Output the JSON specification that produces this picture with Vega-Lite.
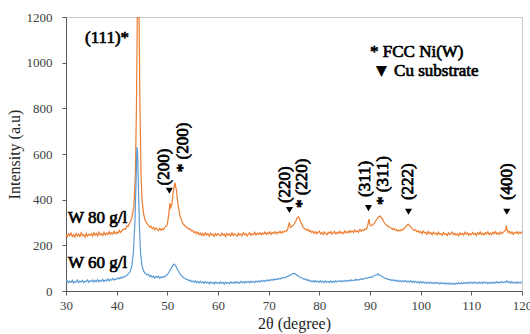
{
 "$schema": "https://vega.github.io/schema/vega-lite/v6.json",
 "width": 456, "height": 274,
 "autosize": {"type": "none"},
 "padding": {"left": 66, "top": 17, "right": 8, "bottom": 43},
 "background": "white",
 "config": {"view": {"stroke": "#c8c8c8", "strokeWidth": 1}, "font": "Liberation Serif"},
 "datasets": {
  "o": [
{"x":30,"y":248},{"x":30.25,"y":237},{"x":30.5,"y":251},{"x":30.75,"y":243},{"x":31,"y":254},{"x":31.25,"y":239},{"x":31.5,"y":246},{"x":31.75,"y":236},{"x":32,"y":252},{"x":32.25,"y":241},{"x":32.5,"y":250},{"x":32.75,"y":238},{"x":33,"y":255},{"x":33.25,"y":242},{"x":33.5,"y":247},{"x":33.75,"y":236},{"x":34,"y":253},{"x":34.25,"y":240},{"x":34.5,"y":249},{"x":34.75,"y":244},{"x":35,"y":251},{"x":35.25,"y":240},{"x":35.5,"y":256},{"x":35.75,"y":244},{"x":36,"y":252},{"x":36.25,"y":241},{"x":36.5,"y":258},{"x":36.75,"y":246},{"x":37,"y":250},{"x":37.25,"y":243},{"x":37.5,"y":257},{"x":37.75,"y":245},{"x":38,"y":254},{"x":38.25,"y":247},{"x":38.5,"y":260},{"x":38.75,"y":248},{"x":39,"y":256},{"x":39.25,"y":249},{"x":39.5,"y":262},{"x":39.75,"y":251},{"x":40,"y":258},{"x":40.25,"y":252},{"x":40.5,"y":265},{"x":40.75,"y":256},{"x":41,"y":263},{"x":41.25,"y":268},{"x":41.5,"y":272},{"x":41.75,"y":270},{"x":42,"y":285},{"x":42.25,"y":283},{"x":42.5,"y":296},{"x":42.75,"y":305},{"x":43,"y":322},{"x":43.4,"y":370},{"x":43.7,"y":520},{"x":43.9,"y":800},{"x":44.1,"y":1250},{"x":44.25,"y":1400},{"x":44.4,"y":1250},{"x":44.6,"y":800},{"x":44.8,"y":520},{"x":45,"y":400},{"x":45.3,"y":340},{"x":45.6,"y":310},{"x":46,"y":295},{"x":46.25,"y":288},{"x":46.5,"y":280},{"x":46.75,"y":284},{"x":47,"y":274},{"x":47.25,"y":279},{"x":47.5,"y":268},{"x":47.75,"y":276},{"x":48,"y":270},{"x":48.25,"y":264},{"x":48.5,"y":275},{"x":48.75,"y":266},{"x":49,"y":273},{"x":49.25,"y":268},{"x":49.5,"y":280},{"x":49.75,"y":283},{"x":50,"y":292},{"x":50.3,"y":340},{"x":50.5,"y":385},{"x":50.7,"y":365},{"x":50.9,"y":380},{"x":51.2,"y":440},{"x":51.5,"y":475},{"x":51.8,"y":440},{"x":52.1,"y":380},{"x":52.5,"y":330},{"x":53,"y":298},{"x":53.25,"y":290},{"x":53.5,"y":286},{"x":53.75,"y":279},{"x":54,"y":276},{"x":54.25,"y":270},{"x":54.5,"y":272},{"x":54.75,"y":263},{"x":55,"y":265},{"x":55.25,"y":256},{"x":55.5,"y":260},{"x":55.75,"y":251},{"x":56,"y":258},{"x":56.25,"y":247},{"x":56.5,"y":254},{"x":56.75,"y":244},{"x":57,"y":252},{"x":57.25,"y":242},{"x":57.5,"y":255},{"x":57.75,"y":246},{"x":58,"y":250},{"x":58.25,"y":240},{"x":58.5,"y":253},{"x":58.75,"y":245},{"x":59,"y":249},{"x":59.25,"y":239},{"x":59.5,"y":252},{"x":59.75,"y":243},{"x":60,"y":251},{"x":60.25,"y":246},{"x":60.5,"y":241},{"x":60.75,"y":254},{"x":61,"y":244},{"x":61.25,"y":250},{"x":61.5,"y":238},{"x":61.75,"y":252},{"x":62,"y":245},{"x":62.25,"y":249},{"x":62.5,"y":241},{"x":62.75,"y":255},{"x":63,"y":243},{"x":63.25,"y":251},{"x":63.5,"y":246},{"x":63.75,"y":240},{"x":64,"y":253},{"x":64.25,"y":245},{"x":64.5,"y":250},{"x":64.75,"y":242},{"x":65,"y":256},{"x":65.25,"y":246},{"x":65.5,"y":252},{"x":65.75,"y":241},{"x":66,"y":249},{"x":66.25,"y":255},{"x":66.5,"y":244},{"x":66.75,"y":251},{"x":67,"y":247},{"x":67.25,"y":257},{"x":67.5,"y":245},{"x":67.75,"y":253},{"x":68,"y":248},{"x":68.25,"y":256},{"x":68.5,"y":246},{"x":68.75,"y":254},{"x":69,"y":249},{"x":69.25,"y":258},{"x":69.5,"y":247},{"x":69.75,"y":255},{"x":70,"y":250},{"x":70.25,"y":259},{"x":70.5,"y":248},{"x":70.75,"y":256},{"x":71,"y":252},{"x":71.25,"y":260},{"x":71.5,"y":250},{"x":71.75,"y":258},{"x":72,"y":254},{"x":72.25,"y":262},{"x":72.5,"y":252},{"x":72.75,"y":260},{"x":73,"y":257},{"x":73.25,"y":264},{"x":73.5,"y":262},{"x":73.75,"y":270},{"x":73.9,"y":285},{"x":74.1,"y":300},{"x":74.3,"y":278},{"x":74.5,"y":282},{"x":74.7,"y":285},{"x":75,"y":292},{"x":75.2,"y":300},{"x":75.4,"y":308},{"x":75.6,"y":318},{"x":75.9,"y":325},{"x":76.2,"y":310},{"x":76.4,"y":298},{"x":76.6,"y":290},{"x":76.8,"y":280},{"x":77,"y":275},{"x":77.25,"y":270},{"x":77.5,"y":266},{"x":77.75,"y":271},{"x":78,"y":260},{"x":78.25,"y":265},{"x":78.5,"y":256},{"x":78.75,"y":262},{"x":79,"y":252},{"x":79.25,"y":260},{"x":79.5,"y":251},{"x":79.75,"y":257},{"x":80,"y":262},{"x":80.25,"y":250},{"x":80.5,"y":256},{"x":80.75,"y":247},{"x":81,"y":259},{"x":81.25,"y":251},{"x":81.5,"y":246},{"x":81.75,"y":257},{"x":82,"y":252},{"x":82.25,"y":260},{"x":82.5,"y":249},{"x":82.75,"y":255},{"x":83,"y":261},{"x":83.25,"y":250},{"x":83.5,"y":257},{"x":83.75,"y":252},{"x":84,"y":262},{"x":84.25,"y":253},{"x":84.5,"y":258},{"x":84.75,"y":251},{"x":85,"y":263},{"x":85.25,"y":255},{"x":85.5,"y":260},{"x":85.75,"y":254},{"x":86,"y":265},{"x":86.25,"y":257},{"x":86.5,"y":262},{"x":86.75,"y":256},{"x":87,"y":267},{"x":87.25,"y":259},{"x":87.5,"y":264},{"x":87.75,"y":258},{"x":88,"y":270},{"x":88.25,"y":262},{"x":88.5,"y":268},{"x":88.75,"y":264},{"x":89,"y":272},{"x":89.25,"y":270},{"x":89.5,"y":282},{"x":89.8,"y":315},{"x":90,"y":290},{"x":90.2,"y":286},{"x":90.4,"y":288},{"x":90.6,"y":292},{"x":90.8,"y":295},{"x":91,"y":302},{"x":91.2,"y":310},{"x":91.4,"y":316},{"x":91.6,"y":322},{"x":91.8,"y":326},{"x":92,"y":328},{"x":92.2,"y":322},{"x":92.4,"y":318},{"x":92.6,"y":308},{"x":92.8,"y":300},{"x":93,"y":294},{"x":93.2,"y":290},{"x":93.45,"y":284},{"x":93.7,"y":282},{"x":93.95,"y":278},{"x":94.2,"y":276},{"x":94.45,"y":270},{"x":94.7,"y":274},{"x":94.95,"y":266},{"x":95.2,"y":270},{"x":95.45,"y":262},{"x":95.7,"y":267},{"x":95.95,"y":263},{"x":96.2,"y":270},{"x":96.45,"y":266},{"x":96.7,"y":274},{"x":96.95,"y":278},{"x":97.2,"y":285},{"x":97.4,"y":290},{"x":97.6,"y":292},{"x":97.8,"y":286},{"x":98,"y":282},{"x":98.25,"y":274},{"x":98.5,"y":270},{"x":98.75,"y":265},{"x":99,"y":268},{"x":99.25,"y":259},{"x":99.5,"y":264},{"x":99.75,"y":256},{"x":100,"y":261},{"x":100.25,"y":251},{"x":100.5,"y":263},{"x":100.75,"y":254},{"x":101,"y":258},{"x":101.25,"y":248},{"x":101.5,"y":260},{"x":101.75,"y":251},{"x":102,"y":256},{"x":102.25,"y":246},{"x":102.5,"y":258},{"x":102.75,"y":250},{"x":103,"y":254},{"x":103.25,"y":245},{"x":103.5,"y":257},{"x":103.75,"y":249},{"x":104,"y":252},{"x":104.25,"y":244},{"x":104.5,"y":256},{"x":104.75,"y":248},{"x":105,"y":251},{"x":105.25,"y":243},{"x":105.5,"y":255},{"x":105.75,"y":247},{"x":106,"y":252},{"x":106.25,"y":258},{"x":106.5,"y":246},{"x":106.75,"y":253},{"x":107,"y":244},{"x":107.25,"y":251},{"x":107.5,"y":242},{"x":107.75,"y":254},{"x":108,"y":247},{"x":108.25,"y":252},{"x":108.5,"y":245},{"x":108.75,"y":257},{"x":109,"y":249},{"x":109.25,"y":254},{"x":109.5,"y":244},{"x":109.75,"y":252},{"x":110,"y":246},{"x":110.25,"y":256},{"x":110.5,"y":248},{"x":110.75,"y":253},{"x":111,"y":243},{"x":111.25,"y":255},{"x":111.5,"y":249},{"x":111.75,"y":258},{"x":112,"y":247},{"x":112.25,"y":253},{"x":112.5,"y":245},{"x":112.75,"y":256},{"x":113,"y":250},{"x":113.25,"y":259},{"x":113.5,"y":248},{"x":113.75,"y":254},{"x":114,"y":246},{"x":114.25,"y":257},{"x":114.5,"y":251},{"x":114.75,"y":260},{"x":115,"y":249},{"x":115.25,"y":255},{"x":115.5,"y":247},{"x":115.75,"y":258},{"x":116,"y":251},{"x":116.25,"y":256},{"x":116.5,"y":262},{"x":116.75,"y":266},{"x":116.9,"y":287},{"x":117.05,"y":268},{"x":117.25,"y":256},{"x":117.5,"y":262},{"x":117.75,"y":251},{"x":118,"y":259},{"x":118.25,"y":248},{"x":118.5,"y":257},{"x":118.75,"y":252},{"x":119,"y":260},{"x":119.25,"y":250},{"x":119.5,"y":258},{"x":119.75,"y":253},{"x":120,"y":261}
  ],
  "b": [
{"x":30,"y":40},{"x":30.25,"y":46},{"x":30.5,"y":36},{"x":30.75,"y":43},{"x":31,"y":38},{"x":31.25,"y":47},{"x":31.5,"y":35},{"x":31.75,"y":42},{"x":32,"y":39},{"x":32.25,"y":48},{"x":32.5,"y":37},{"x":32.75,"y":44},{"x":33,"y":40},{"x":33.25,"y":46},{"x":33.5,"y":36},{"x":33.75,"y":43},{"x":34,"y":41},{"x":34.25,"y":49},{"x":34.5,"y":38},{"x":34.75,"y":45},{"x":35,"y":42},{"x":35.25,"y":48},{"x":35.5,"y":39},{"x":35.75,"y":46},{"x":36,"y":41},{"x":36.25,"y":50},{"x":36.5,"y":40},{"x":36.75,"y":47},{"x":37,"y":43},{"x":37.25,"y":51},{"x":37.5,"y":42},{"x":37.75,"y":48},{"x":38,"y":45},{"x":38.25,"y":53},{"x":38.5,"y":44},{"x":38.75,"y":51},{"x":39,"y":47},{"x":39.25,"y":55},{"x":39.5,"y":48},{"x":39.75,"y":53},{"x":40,"y":51},{"x":40.25,"y":58},{"x":40.5,"y":53},{"x":40.75,"y":60},{"x":41,"y":56},{"x":41.25,"y":63},{"x":41.5,"y":61},{"x":41.75,"y":66},{"x":42,"y":68},{"x":42.25,"y":74},{"x":42.5,"y":80},{"x":42.75,"y":92},{"x":43,"y":110},{"x":43.3,"y":170},{"x":43.6,"y":300},{"x":43.85,"y":500},{"x":44,"y":630},{"x":44.15,"y":600},{"x":44.3,"y":450},{"x":44.5,"y":280},{"x":44.7,"y":170},{"x":45,"y":110},{"x":45.25,"y":92},{"x":45.5,"y":80},{"x":45.75,"y":76},{"x":46,"y":70},{"x":46.25,"y":74},{"x":46.5,"y":63},{"x":46.75,"y":68},{"x":47,"y":60},{"x":47.25,"y":66},{"x":47.5,"y":57},{"x":47.75,"y":63},{"x":48,"y":59},{"x":48.25,"y":65},{"x":48.5,"y":56},{"x":48.75,"y":62},{"x":49,"y":58},{"x":49.25,"y":64},{"x":49.5,"y":62},{"x":49.75,"y":68},{"x":50,"y":72},{"x":50.25,"y":80},{"x":50.5,"y":90},{"x":50.75,"y":100},{"x":51,"y":110},{"x":51.3,"y":118},{"x":51.6,"y":112},{"x":51.8,"y":104},{"x":52,"y":95},{"x":52.25,"y":84},{"x":52.5,"y":75},{"x":52.75,"y":68},{"x":53,"y":62},{"x":53.25,"y":58},{"x":53.5,"y":55},{"x":53.75,"y":51},{"x":54,"y":50},{"x":54.25,"y":45},{"x":54.5,"y":48},{"x":54.75,"y":41},{"x":55,"y":44},{"x":55.25,"y":38},{"x":55.5,"y":45},{"x":55.75,"y":37},{"x":56,"y":42},{"x":56.25,"y":35},{"x":56.5,"y":43},{"x":56.75,"y":36},{"x":57,"y":40},{"x":57.25,"y":33},{"x":57.5,"y":41},{"x":57.75,"y":35},{"x":58,"y":39},{"x":58.25,"y":32},{"x":58.5,"y":40},{"x":58.75,"y":34},{"x":59,"y":38},{"x":59.25,"y":31},{"x":59.5,"y":39},{"x":59.75,"y":34},{"x":60,"y":37},{"x":60.25,"y":32},{"x":60.5,"y":40},{"x":60.75,"y":33},{"x":61,"y":38},{"x":61.25,"y":31},{"x":61.5,"y":39},{"x":61.75,"y":34},{"x":62,"y":37},{"x":62.25,"y":32},{"x":62.5,"y":40},{"x":62.75,"y":35},{"x":63,"y":38},{"x":63.25,"y":33},{"x":63.5,"y":41},{"x":63.75,"y":35},{"x":64,"y":39},{"x":64.25,"y":34},{"x":64.5,"y":42},{"x":64.75,"y":36},{"x":65,"y":40},{"x":65.25,"y":35},{"x":65.5,"y":42},{"x":65.75,"y":37},{"x":66,"y":41},{"x":66.25,"y":36},{"x":66.5,"y":43},{"x":66.75,"y":38},{"x":67,"y":42},{"x":67.25,"y":37},{"x":67.5,"y":44},{"x":67.75,"y":40},{"x":68,"y":45},{"x":68.25,"y":39},{"x":68.5,"y":46},{"x":68.75,"y":42},{"x":69,"y":47},{"x":69.25,"y":42},{"x":69.5,"y":48},{"x":69.75,"y":44},{"x":70,"y":49},{"x":70.25,"y":45},{"x":70.5,"y":50},{"x":70.75,"y":47},{"x":71,"y":52},{"x":71.25,"y":48},{"x":71.5,"y":53},{"x":71.75,"y":51},{"x":72,"y":55},{"x":72.25,"y":52},{"x":72.5,"y":57},{"x":72.75,"y":56},{"x":73,"y":59},{"x":73.25,"y":58},{"x":73.5,"y":62},{"x":73.75,"y":64},{"x":74,"y":66},{"x":74.25,"y":70},{"x":74.5,"y":72},{"x":74.75,"y":76},{"x":75,"y":77},{"x":75.3,"y":75},{"x":75.5,"y":70},{"x":75.7,"y":68},{"x":76,"y":62},{"x":76.2,"y":60},{"x":76.45,"y":58},{"x":76.7,"y":56},{"x":76.95,"y":51},{"x":77.2,"y":53},{"x":77.45,"y":47},{"x":77.7,"y":50},{"x":77.95,"y":44},{"x":78.2,"y":47},{"x":78.45,"y":41},{"x":78.7,"y":45},{"x":78.95,"y":39},{"x":79.2,"y":46},{"x":79.45,"y":40},{"x":79.7,"y":44},{"x":79.95,"y":38},{"x":80.2,"y":45},{"x":80.45,"y":39},{"x":80.7,"y":43},{"x":80.95,"y":36},{"x":81.2,"y":44},{"x":81.45,"y":38},{"x":81.7,"y":42},{"x":81.95,"y":37},{"x":82.2,"y":44},{"x":82.45,"y":38},{"x":82.7,"y":43},{"x":82.95,"y":39},{"x":83.2,"y":45},{"x":83.45,"y":40},{"x":83.7,"y":44},{"x":83.95,"y":41},{"x":84.2,"y":46},{"x":84.45,"y":40},{"x":84.7,"y":45},{"x":84.95,"y":42},{"x":85.2,"y":47},{"x":85.45,"y":43},{"x":85.7,"y":46},{"x":85.95,"y":44},{"x":86.2,"y":49},{"x":86.45,"y":45},{"x":86.7,"y":48},{"x":86.95,"y":46},{"x":87.2,"y":51},{"x":87.45,"y":47},{"x":87.7,"y":50},{"x":87.95,"y":49},{"x":88.2,"y":54},{"x":88.45,"y":50},{"x":88.7,"y":53},{"x":88.95,"y":55},{"x":89.2,"y":57},{"x":89.45,"y":56},{"x":89.7,"y":60},{"x":89.95,"y":58},{"x":90.2,"y":62},{"x":90.45,"y":61},{"x":90.7,"y":66},{"x":90.95,"y":68},{"x":91.2,"y":71},{"x":91.4,"y":70},{"x":91.6,"y":75},{"x":91.8,"y":71},{"x":92,"y":68},{"x":92.25,"y":66},{"x":92.5,"y":62},{"x":92.75,"y":59},{"x":93,"y":56},{"x":93.25,"y":53},{"x":93.5,"y":54},{"x":93.75,"y":49},{"x":94,"y":51},{"x":94.25,"y":46},{"x":94.5,"y":49},{"x":94.75,"y":44},{"x":95,"y":48},{"x":95.25,"y":43},{"x":95.5,"y":47},{"x":95.75,"y":41},{"x":96,"y":46},{"x":96.25,"y":40},{"x":96.5,"y":45},{"x":96.75,"y":41},{"x":97,"y":46},{"x":97.25,"y":39},{"x":97.5,"y":44},{"x":97.75,"y":40},{"x":98,"y":45},{"x":98.25,"y":38},{"x":98.5,"y":43},{"x":98.75,"y":37},{"x":99,"y":42},{"x":99.25,"y":36},{"x":99.5,"y":41},{"x":99.75,"y":35},{"x":100,"y":41},{"x":100.25,"y":35},{"x":100.5,"y":40},{"x":100.75,"y":34},{"x":101,"y":39},{"x":101.25,"y":33},{"x":101.5,"y":38},{"x":101.75,"y":34},{"x":102,"y":39},{"x":102.25,"y":33},{"x":102.5,"y":37},{"x":102.75,"y":32},{"x":103,"y":38},{"x":103.25,"y":33},{"x":103.5,"y":36},{"x":103.75,"y":31},{"x":104,"y":37},{"x":104.25,"y":32},{"x":104.5,"y":36},{"x":104.75,"y":30},{"x":105,"y":36},{"x":105.25,"y":31},{"x":105.5,"y":35},{"x":105.75,"y":29},{"x":106,"y":35},{"x":106.25,"y":30},{"x":106.5,"y":34},{"x":106.75,"y":29},{"x":107,"y":35},{"x":107.25,"y":31},{"x":107.5,"y":37},{"x":107.75,"y":32},{"x":108,"y":36},{"x":108.25,"y":31},{"x":108.5,"y":38},{"x":108.75,"y":33},{"x":109,"y":37},{"x":109.25,"y":32},{"x":109.5,"y":39},{"x":109.75,"y":34},{"x":110,"y":38},{"x":110.25,"y":33},{"x":110.5,"y":40},{"x":110.75,"y":35},{"x":111,"y":37},{"x":111.25,"y":32},{"x":111.5,"y":39},{"x":111.75,"y":34},{"x":112,"y":38},{"x":112.25,"y":33},{"x":112.5,"y":40},{"x":112.75,"y":35},{"x":113,"y":38},{"x":113.25,"y":32},{"x":113.5,"y":37},{"x":113.75,"y":34},{"x":114,"y":39},{"x":114.25,"y":33},{"x":114.5,"y":38},{"x":114.75,"y":35},{"x":115,"y":41},{"x":115.25,"y":34},{"x":115.5,"y":39},{"x":115.75,"y":35},{"x":116,"y":42},{"x":116.25,"y":36},{"x":116.5,"y":40},{"x":116.75,"y":37},{"x":117,"y":45},{"x":117.25,"y":38},{"x":117.5,"y":41},{"x":117.75,"y":34},{"x":118,"y":42},{"x":118.25,"y":35},{"x":118.5,"y":38},{"x":118.75,"y":33},{"x":119,"y":40},{"x":119.25,"y":34},{"x":119.5,"y":38},{"x":119.75,"y":35},{"x":120,"y":41}
  ]
 },
 "encoding": {
  "x": {"field": "x", "type": "quantitative", "scale": {"domain": [30, 120], "nice": false, "zero": false},
   "axis": {"title": "2θ (degree)", "values": [30,40,50,60,70,80,90,100,110,120], "grid": false, "tickSize": 4, "labelPadding": 4, "titlePadding": 3,
    "labelFontSize": 13, "titleFontSize": 16, "titleFontWeight": "normal", "labelColor": "#404040", "titleColor": "#262626",
    "domainColor": "#595959", "tickColor": "#595959", "labelFont": "Liberation Serif", "titleFont": "Liberation Serif", "labelOverlap": false, "labelFlush": false}},
  "y": {"field": "y", "type": "quantitative", "scale": {"domain": [0, 1200], "nice": false},
   "axis": {"title": "Intensity (a.u)", "values": [0,200,400,600,800,1000,1200], "format": "d", "grid": false, "tickSize": 4, "labelPadding": 10, "titlePadding": 4,
    "labelFontSize": 13, "titleFontSize": 16, "titleFontWeight": "normal", "labelColor": "#404040", "titleColor": "#262626",
    "domainColor": "#595959", "tickColor": "#595959", "labelFont": "Liberation Serif", "titleFont": "Liberation Serif"}}
 },
 "layer": [
  {"data": {"name": "o"}, "mark": {"type": "line", "clip": true, "strokeWidth": 1.2, "color": "#ED7D31"}},
  {"data": {"name": "b"}, "mark": {"type": "line", "clip": true, "strokeWidth": 1.2, "color": "#5B9BD5"}},
  {"data": {"values": [{"x":50.4,"y":439},{"x":74.1,"y":355},{"x":89.7,"y":363},{"x":97.6,"y":347},{"x":117.0,"y":347}]},
   "mark": {"type": "point", "shape": "triangle-down", "filled": true, "color": "black", "size": 50, "opacity": 1}},
  {"data": {"values": [
    {"x":49.4,"y":462,"t":"(200)"},{"x":53.0,"y":520,"t":"* (200)"},
    {"x":73.3,"y":385,"t":"(220)"},{"x":76.6,"y":363,"t":"* (220)"},
    {"x":89.1,"y":412,"t":"(311)"},{"x":92.6,"y":377,"t":"* (311)"},
    {"x":97.5,"y":398,"t":"(222)"},{"x":117.0,"y":398,"t":"(400)"}]},
   "mark": {"type": "text", "angle": 270, "align": "left", "baseline": "middle", "font": "Liberation Serif", "fontWeight": "normal", "fontSize": 17, "fill": "black", "stroke": "black", "strokeWidth": 0.7},
   "encoding": {"text": {"field": "t"}}},
  {"data": {"values": [
    {"x":30.4,"y":320,"t":"W 80 g/l"},{"x":30.4,"y":123,"t":"W 60 g/l"},
    {"x":90.0,"y":1047,"t":"* FCC Ni(W)"},{"x":90.6,"y":964,"t":"▼ Cu substrate"}]},
   "mark": {"type": "text", "align": "left", "baseline": "middle", "font": "Liberation Serif", "fontWeight": "normal", "fontSize": 17, "fill": "black", "stroke": "black", "strokeWidth": 0.7},
   "encoding": {"text": {"field": "t"}}},
  {"data": {"values": [{"x":38.1,"y":1108,"t":"(111)*"}]},
   "mark": {"type": "text", "align": "center", "baseline": "middle", "font": "Liberation Serif", "fontWeight": "normal", "fontSize": 17, "fill": "black", "stroke": "black", "strokeWidth": 0.7},
   "encoding": {"text": {"field": "t"}}}
 ]
}
